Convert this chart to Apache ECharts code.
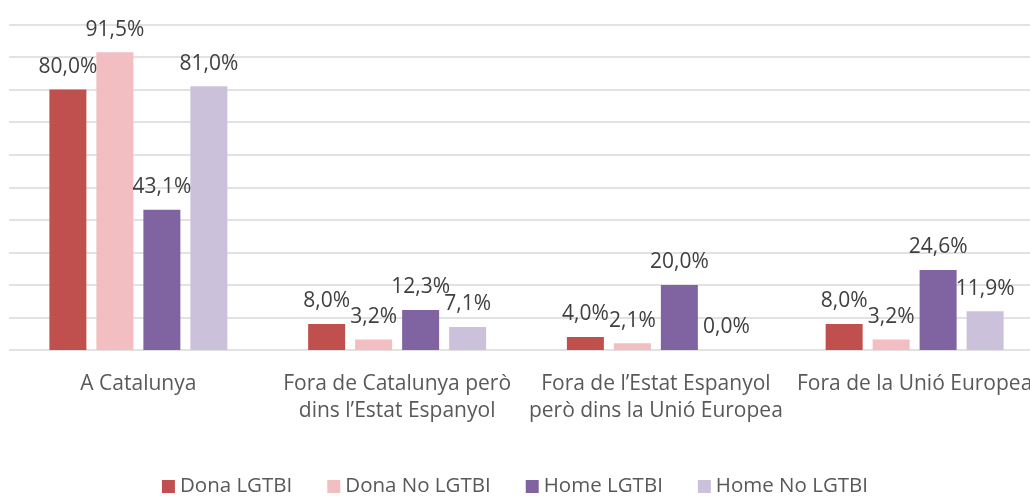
<!DOCTYPE html>
<html><head><meta charset="utf-8">
<script src="https://cdn.jsdelivr.net/npm/echarts@6/dist/echarts.min.js"></script>
<style>html,body{margin:0;padding:0;background:#fff}#c{width:1030px;height:496px}</style>
</head><body><div id="c"></div>
<script>
const categories = ['A Catalunya', 'Fora de Catalunya però\ndins l\u2019Estat Espanyol', 'Fora de l\u2019Estat Espanyol\nperò dins la Unió Europea', 'Fora de la Unió Europea'];
const seriesNames = ['Dona LGTBI', 'Dona No LGTBI', 'Home LGTBI', 'Home No LGTBI'];
const donaLGTBI = [80.0, 8.0, 4.0, 8.0];
const donaNoLGTBI = [91.5, 3.2, 2.1, 3.2];
const homeLGTBI = [43.1, 12.3, 20.0, 24.6];
const homeNoLGTBI = [81.0, 7.1, 0.0, 11.9];
const colors = ['#C0504D', '#F2BEC2', '#8064A2', '#CCC1DA'];
const values = [donaLGTBI, donaNoLGTBI, homeLGTBI, homeNoLGTBI];
const FONT = 'Open Sans';
const chart = echarts.init(document.getElementById('c'));
chart.setOption({
  animation: false,
  textStyle: {fontFamily: FONT},
  grid: {left: 9, width: 1035, top: 24.5, height: 325.5, containLabel: false, outerBoundsMode: 'none'},
  legend: {
    data: seriesNames, top: 471, left: 'center', itemWidth: 13, itemHeight: 13, itemGap: 35,
    icon: 'rect', textStyle: {fontFamily: FONT, fontSize: 20.5, color: '#595959'}
  },
  xAxis: {
    type: 'category', data: categories,
    axisLine: {show: false}, axisTick: {show: false},
    axisLabel: {fontFamily: FONT, fontSize: 21, color: '#595959', margin: 21, lineHeight: 27, interval: 0}
  },
  yAxis: {
    type: 'value', min: 0, max: 100, interval: 10,
    axisLabel: {show: false}, axisLine: {show: false}, axisTick: {show: false},
    splitLine: {lineStyle: {color: '#D9D9D9', width: 1.5}}
  },
  series: seriesNames.map((n, i) => ({
    name: n, type: 'bar', data: values[i], barWidth: 37, barGap: '27%',
    itemStyle: {color: colors[i]},
    label: {show: true, position: 'top', distance: 12, fontFamily: FONT, fontSize: 21, color: '#404040',
      formatter: p => p.value.toFixed(1).replace('.', ',') + '%'}
  }))
});
</script></body></html>
